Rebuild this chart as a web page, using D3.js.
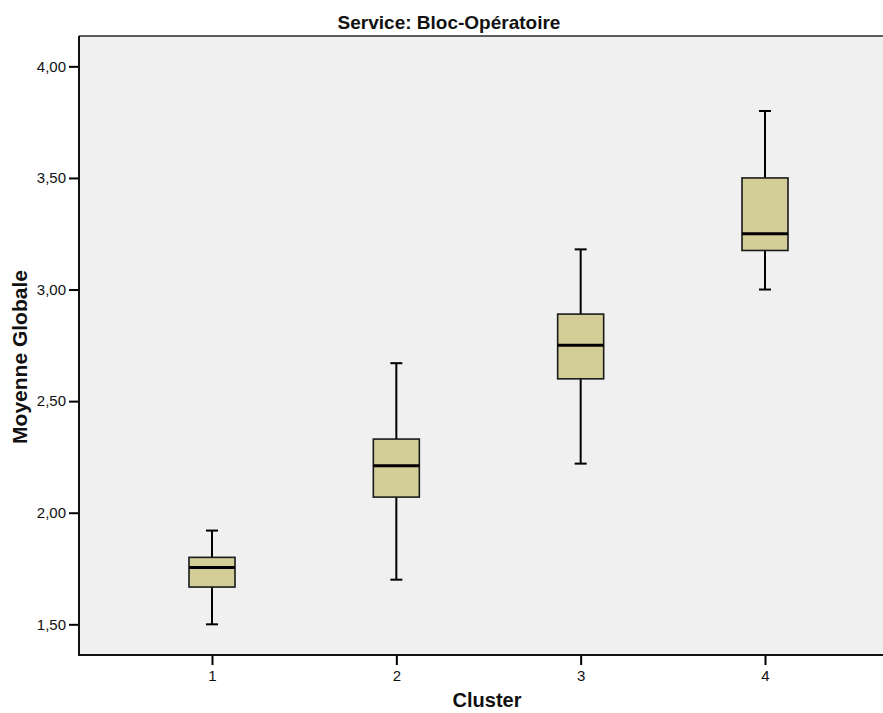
<!DOCTYPE html>
<html>
<head>
<meta charset="utf-8">
<script src="https://cdn.jsdelivr.net/npm/d3@7"></script>
<style>
  html, body { margin: 0; padding: 0; background: #fff; overflow: hidden; }
  svg { display: block; font-family: Arial, 'Liberation Sans', sans-serif; }
</style>
</head>
<body>
<svg id="chart" width="883" height="713"></svg>
<script>
// cluster categories and five-number summaries
const clusters = ['1', '2', '3', '4'];
const whiskerLow = [1.50, 1.70, 2.22, 3.00];
const quartile1 = [1.667, 2.07, 2.60, 3.175];
const medians = [1.755, 2.21, 2.75, 3.25];
const quartile3 = [1.80, 2.33, 2.89, 3.50];
const whiskerHigh = [1.92, 2.67, 3.18, 3.80];
const yTicks = [1.5, 2.0, 2.5, 3.0, 3.5, 4.0];

const boxes = clusters.map((c, i) => ({
  cluster: c,
  lo: whiskerLow[i],
  q1: quartile1[i],
  med: medians[i],
  q3: quartile3[i],
  hi: whiskerHigh[i],
}));

const svg = d3.select('#chart');
const plot = { left: 79, top: 36, right: 905, bottom: 655 };

const x = d3.scalePoint().domain(clusters).range([212, 765]);
const y = d3.scaleLinear().domain([1.3625, 4.136]).range([plot.bottom, plot.top]);

const boxWidth = 46;
const capWidth = 12;
const fmt = (v) => d3.format('.2f')(v).replace('.', ',');

svg.append('rect')
  .attr('x', plot.left)
  .attr('y', plot.top)
  .attr('width', plot.right - plot.left)
  .attr('height', plot.bottom - plot.top)
  .attr('fill', '#f0f0f0');

svg.append('line')
  .attr('x1', plot.left).attr('x2', plot.right)
  .attr('y1', plot.top).attr('y2', plot.top)
  .attr('stroke', '#2a2a2a').attr('stroke-width', 1.5);

// y axis
const yAxis = svg.append('g')
  .attr('transform', `translate(${plot.left},0)`)
  .call(d3.axisLeft(y).tickValues(yTicks).tickSize(10).tickPadding(3).tickFormat(fmt));
yAxis.select('.domain').remove();
yAxis.selectAll('line').attr('stroke', '#000').attr('stroke-width', 2);
yAxis.selectAll('text')
  .attr('fill', '#111')
  .attr('font-size', 15)
  .attr('font-family', 'Arial, Liberation Sans, sans-serif');

// x axis
const xAxis = svg.append('g')
  .attr('transform', `translate(0,${plot.bottom})`)
  .call(d3.axisBottom(x).tickSize(10).tickPadding(5));
xAxis.select('.domain').remove();
xAxis.selectAll('line').attr('stroke', '#000').attr('stroke-width', 2);
xAxis.selectAll('text')
  .attr('fill', '#111')
  .attr('font-size', 15)
  .attr('font-family', 'Arial, Liberation Sans, sans-serif');

// frame left and bottom
svg.append('line')
  .attr('x1', plot.left).attr('x2', plot.left)
  .attr('y1', plot.top).attr('y2', plot.bottom + 1)
  .attr('stroke', '#111').attr('stroke-width', 2);
svg.append('line')
  .attr('x1', plot.left).attr('x2', plot.right)
  .attr('y1', plot.bottom).attr('y2', plot.bottom)
  .attr('stroke', '#111').attr('stroke-width', 2);

// boxes
const g = svg.append('g')
  .selectAll('g')
  .data(boxes)
  .enter()
  .append('g')
  .attr('transform', (d) => `translate(${x(d.cluster)},0)`);

g.append('line')
  .attr('y1', (d) => y(d.hi)).attr('y2', (d) => y(d.q3))
  .attr('stroke', '#000').attr('stroke-width', 2);
g.append('line')
  .attr('y1', (d) => y(d.q1)).attr('y2', (d) => y(d.lo))
  .attr('stroke', '#000').attr('stroke-width', 2);
g.append('line')
  .attr('x1', -capWidth / 2).attr('x2', capWidth / 2)
  .attr('y1', (d) => y(d.hi)).attr('y2', (d) => y(d.hi))
  .attr('stroke', '#000').attr('stroke-width', 2);
g.append('line')
  .attr('x1', -capWidth / 2).attr('x2', capWidth / 2)
  .attr('y1', (d) => y(d.lo)).attr('y2', (d) => y(d.lo))
  .attr('stroke', '#000').attr('stroke-width', 2);

g.append('rect')
  .attr('x', -boxWidth / 2)
  .attr('width', boxWidth)
  .attr('y', (d) => y(d.q3))
  .attr('height', (d) => y(d.q1) - y(d.q3))
  .attr('fill', '#d3ce98')
  .attr('stroke', '#1a1a1a')
  .attr('stroke-width', 1.6);

g.append('line')
  .attr('x1', -boxWidth / 2).attr('x2', boxWidth / 2)
  .attr('y1', (d) => y(d.med)).attr('y2', (d) => y(d.med))
  .attr('stroke', '#000').attr('stroke-width', 3);

// titles
svg.append('text')
  .attr('x', 449).attr('y', 29)
  .attr('text-anchor', 'middle')
  .attr('font-size', 19).attr('font-weight', 'bold').attr('fill', '#111')
  .text('Service: Bloc-Opératoire');

svg.append('text')
  .attr('x', 487).attr('y', 707)
  .attr('text-anchor', 'middle')
  .attr('font-size', 20).attr('font-weight', 'bold').attr('fill', '#111')
  .text('Cluster');

svg.append('text')
  .attr('transform', 'translate(27,357) rotate(-90)')
  .attr('text-anchor', 'middle')
  .attr('font-size', 21).attr('font-weight', 'bold').attr('fill', '#111')
  .text('Moyenne Globale');
</script>
</body>
</html>
